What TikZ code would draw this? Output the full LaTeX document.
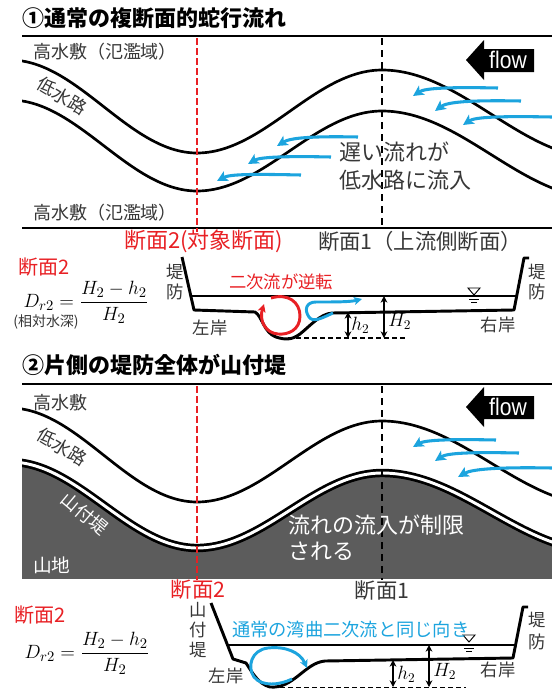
\documentclass[tikz,border=0pt]{standalone}
\usepackage[no-math]{fontspec}
\setmainfont{Liberation Sans}
\newfontfamily\jp{Noto Sans CJK JP}
\newfontfamily\flowfont{Liberation Sans}[FakeStretch=0.88]
\usetikzlibrary{arrows.meta}
\definecolor{jred}{RGB}{232,32,36}
\definecolor{jblue}{RGB}{28,164,222}
\definecolor{jgray}{RGB}{55,55,55}
\definecolor{mount}{RGB}{92,92,92}
\newcommand\jfs[1]{\fontsize{#1}{#1}\selectfont}

\begin{document}
\begin{tikzpicture}[x=0.75pt,y=-0.75pt,
  lbl/.style={inner sep=0pt, outer sep=0pt, text=jgray, font=\jp\jfs{13.5}},
  title/.style={inner sep=0pt, text=black, font=\jp\bfseries\jfs{16.5}},
  rule/.style={line width=1.6pt},
  bank/.style={line width=2pt},
  sec2/.style={jred, line width=1.5pt, dash pattern=on 5pt off 2.5pt},
  sec1/.style={black, line width=1.4pt, dash pattern=on 5pt off 4pt},
  flowarr/.style={jblue, line width=2.3pt, -{Stealth[length=8pt,width=8pt,inset=2pt]}},
  profile/.style={line width=2.2pt, line join=round},
  surface/.style={line width=0.8pt},
  datum/.style={line width=0.9pt, dash pattern=on 3.5pt off 2.5pt},
  dim/.style={line width=1.1pt, {Stealth[length=5pt,width=5pt]}-{Stealth[length=5pt,width=5pt]}},
  loop/.style={line width=2.2pt, -{Stealth[length=6pt,width=6pt,inset=1.5pt]}},
  flowbox/.style={fill=black},
  mathlbl/.style={inner sep=0pt, font=\jfs{14}},
]
\useasboundingbox (0,0) rectangle (552,690);

% ================= panel 1 : plan view =================
\node[title, anchor=west] (t1) at (22,18) {①通常の複断面的蛇行流れ};
\draw[rule] (22,36) -- (552,36);
\draw[rule] (22,228) -- (552,228);
\begin{scope}
  \clip (22,37) rectangle (552,227);
  \draw[bank] (10,60) .. controls (78,60) and (129,153) .. (197,153)
     .. controls (264,153) and (315,70) .. (382,70)
     .. controls (461,70) and (521,158) .. (600,158);
  \draw[bank] (10,100) .. controls (78,100) and (129,191) .. (197,191)
     .. controls (264,191) and (315,111) .. (382,111)
     .. controls (461,111) and (521,198) .. (600,198);
\end{scope}
\draw[sec2] (197,38) -- (197,232);
\draw[sec1] (382,38) -- (382,228);

\node[lbl, anchor=west] (hw1) at (33,52) {高水敷（氾濫域）};
\node[lbl, anchor=west] (hw2) at (33,213) {高水敷（氾濫域）};
\node[lbl, rotate=-31] (lc1) at (62,96) {低水路};

% flow direction sign
\fill[flowbox] (466,60) -- (484,40) -- (484,49) -- (534,49) -- (534,72) -- (484,72) -- (484,80) -- cycle;
\node[inner sep=0pt, text=white, font=\flowfont\jfs{18}] (fl1) at (508,60) {flow};

% flow over the floodplain
\draw[flowarr] (498,88) .. controls (450,87) and (425,88) .. (413,96);
\draw[flowarr] (521,101) .. controls (470,100) and (447,102) .. (435,111);
\draw[flowarr] (552,117) .. controls (500,116) and (475,117) .. (463,125);
\draw[flowarr] (358,137) .. controls (310,136) and (290,138) .. (277,146);
\draw[flowarr] (331,157) .. controls (285,156) and (260,157) .. (248,164);
\draw[flowarr] (301,175) .. controls (255,174) and (230,174) .. (217,181);

\node[lbl, anchor=west, font=\jp\jfs{16.5}] (slow1) at (339,152) {遅い流れが};
\node[lbl, anchor=west, font=\jp\jfs{16.5}] (slow2) at (339,180) {低水路に流入};

\node[lbl, anchor=west, text=jred, font=\jp\jfs{16.5}] (s2a) at (124,241) {断面2(対象断面)};
\node[lbl, anchor=west, font=\jp\jfs{16}] (s1a) at (318,241) {断面1（上流側断面）};

% ================= cross section 1 =================
\node[lbl, anchor=west, text=jred, font=\jp\jfs{15}] (c2a) at (18,267) {断面2};
\node[inner sep=0pt, font=\jfs{15.5}] (f1) at (86,302) {$D_{r2}=\displaystyle\frac{H_2-h_2}{H_2}$};
\node[lbl, font=\jp\jfs{10.5}] (rel) at (46,322) {(相対水深)};

\draw[profile] (182,257) -- (194,310) -- (255,312)
   .. controls (262,316) and (264,333) .. (276,337)
   .. controls (285,340) and (292,340) .. (300,334)
   .. controls (310,326) and (320,314) .. (332,313)
   -- (514,310) -- (524,258) -- (529,258);
\draw[surface] (191,296) -- (517,296);
\draw[datum] (288,338) -- (406,338);

% water level mark
\draw[line width=0.7pt] (468,288) -- (480,288) -- (474,295) -- cycle;
\draw[line width=0.7pt] (469,299.5) -- (479,299.5);
\draw[line width=0.7pt] (471,302.5) -- (477,302.5);

\draw[loop, jred] (271,298) .. controls (288,293) and (300,302) .. (300,316)
   .. controls (300,330) and (288,335) .. (278,334)
   .. controls (265,333) and (259,320) .. (264,304);
\draw[loop, jblue] (333,313) .. controls (322,318) and (313,323) .. (309,317)
   .. controls (304,310) and (306,302) .. (316,302)
   .. controls (335,302) and (350,302) .. (362,299);

\draw[dim] (348,312) -- (348,338);
\draw[dim] (384,296) -- (384,338);
\node[mathlbl, anchor=west] (h1) at (351,325) {$h_2$};
\node[mathlbl, anchor=west] (H1) at (388,321) {$H_2$};

\node[lbl, text=jred, font=\jp\jfs{13}] (rev) at (281,282) {二次流が逆転};
\node[lbl, align=center, font=\jp\fontsize{13}{15}\selectfont] (lev1) at (175,282) {堤\\防};
\node[lbl, align=center, font=\jp\fontsize{13}{15}\selectfont] (lev2) at (537,282) {堤\\防};
\node[lbl, font=\jp\jfs{13}] (lb1) at (210,328) {左岸};
\node[lbl, font=\jp\jfs{13}] (rb1) at (498,325) {右岸};

% ================= panel 2 : plan view =================
\node[title, anchor=west] (t2) at (22,365) {②片側の堤防全体が山付堤};
\draw[rule] (22,384) -- (552,384);
\begin{scope}
  \clip (22,385) rectangle (552,578);
  \fill[mount] (10,462) .. controls (78,462) and (129,548) .. (197,548)
     .. controls (264,548) and (315,473) .. (382,473)
     .. controls (461,473) and (521,551) .. (600,551)
     -- (600,580) -- (10,580) -- cycle;
  \draw[bank] (10,408) .. controls (78,408) and (129,502) .. (197,502)
     .. controls (264,502) and (315,421) .. (382,421)
     .. controls (461,421) and (521,505) .. (600,505);
  \draw[line width=6.3pt] (10,462) .. controls (78,462) and (129,548) .. (197,548)
     .. controls (264,548) and (315,473) .. (382,473)
     .. controls (461,473) and (521,551) .. (600,551);
  \draw[line width=2.2pt, white] (10,462) .. controls (78,462) and (129,548) .. (197,548)
     .. controls (264,548) and (315,473) .. (382,473)
     .. controls (461,473) and (521,551) .. (600,551);
\end{scope}
\draw[sec2] (197,386) -- (197,580);
\draw[sec1] (382,386) -- (382,580);

\node[lbl, anchor=west] (hw3) at (33,403) {高水敷};
\node[lbl, rotate=-31] (lc2) at (62,447) {低水路};
\node[lbl, rotate=-40, text=white] (yam) at (85,514) {山付堤};
\node[lbl, anchor=west, text=white, font=\jp\jfs{14}] (mtn) at (33,565) {山地};
\node[lbl, anchor=west, text=white, font=\jp\jfs{16.5}] (lim1) at (288,525) {流れの流入が制限};
\node[lbl, anchor=west, text=white, font=\jp\jfs{16.5}] (lim2) at (288,551) {される};

\fill[flowbox] (466,407) -- (484,387) -- (484,396) -- (534,396) -- (534,419) -- (484,419) -- (484,427) -- cycle;
\node[inner sep=0pt, text=white, font=\flowfont\jfs{18}] (fl2) at (508,407) {flow};

\draw[flowarr] (496,440) .. controls (450,439) and (425,440) .. (413,447);
\draw[flowarr] (519,453) .. controls (470,452) and (447,453) .. (435,461);
\draw[flowarr] (552,468) .. controls (500,467) and (472,469) .. (458,477);

\node[lbl, text=jred, font=\jp\jfs{16}] (s2b) at (198,590) {断面2};
\node[lbl, font=\jp\jfs{16}] (s1b) at (382,591) {断面1};

% ================= cross section 2 =================
\node[lbl, anchor=west, text=jred, font=\jp\jfs{15}] (c2b) at (15,615) {断面2};
\node[inner sep=0pt, font=\jfs{15.5}] (f2) at (87,653) {$D_{r2}=\displaystyle\frac{H_2-h_2}{H_2}$};

\draw[profile] (211,603) -- (233,659) -- (246,663)
   .. controls (252,672) and (258,684) .. (270,687)
   .. controls (282,688) and (290,682) .. (298,676)
   .. controls (308,668) and (315,662) .. (325,661)
   -- (513,658) -- (523,607) -- (528,607);
\draw[surface] (228,645) -- (517,645);
\draw[datum] (272,687.5) -- (466,687.5);

\draw[line width=0.7pt] (463,635) -- (475,635) -- (469,642) -- cycle;
\draw[line width=0.7pt] (464,648.5) -- (474,648.5);
\draw[line width=0.7pt] (466,651.5) -- (472,651.5);

\draw[loop, jblue] (292,679) .. controls (280,685) and (262,687) .. (254,677)
   .. controls (247,667) and (251,650) .. (268,648)
   .. controls (285,646) and (300,652) .. (307,668);

\draw[dim] (393,660) -- (393,687);
\draw[dim] (429,645) -- (429,687);
\node[mathlbl, anchor=west] (h2) at (397,674) {$h_2$};
\node[mathlbl, anchor=west] (H2) at (433,671) {$H_2$};

\node[lbl, anchor=west, text=jblue, font=\jp\jfs{13.7}] (same) at (232,630) {通常の湾曲二次流と同じ向き};
\node[lbl, align=center, font=\jp\fontsize{13}{15}\selectfont] (yam2) at (198,630) {山\\付\\堤};
\node[lbl, align=center, font=\jp\fontsize{13}{16.5}\selectfont] (lev3) at (537,631) {堤\\防};
\node[lbl, font=\jp\jfs{13}] (lb2) at (226,676) {左岸};
\node[lbl, font=\jp\jfs{13}] (rb2) at (498,670) {右岸};
\end{tikzpicture}
\end{document}
